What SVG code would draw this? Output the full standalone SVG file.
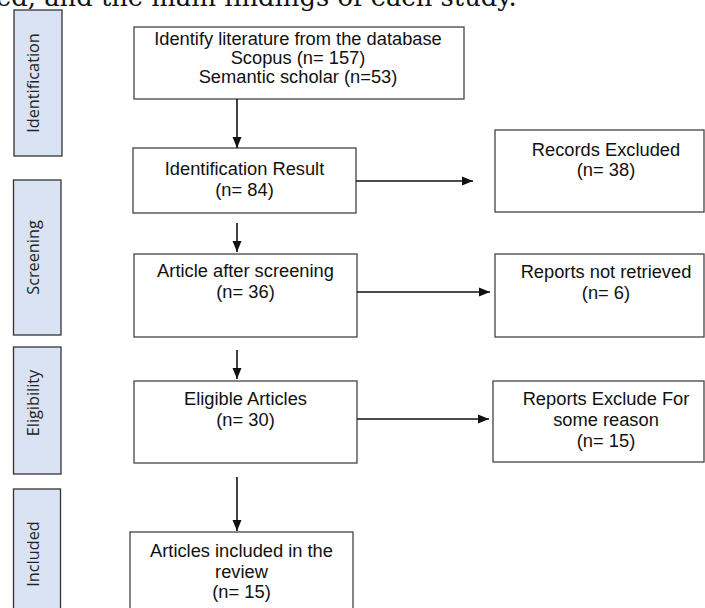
<svg xmlns="http://www.w3.org/2000/svg" width="705" height="608" viewBox="0 0 705 608">
<style>
.stage{fill:#dae3f3;stroke:#333;stroke-width:1.3}
.stxt{font-family:"Open Sans",sans-serif;font-size:16.3px;fill:#222;text-anchor:middle}
.box{fill:#fff;stroke:#444;stroke-width:1.3}
.t{font-family:"Liberation Sans",Arial,sans-serif;font-size:18.3px;fill:#111;text-anchor:middle}
.cap{font-family:"DejaVu Serif",serif;font-size:25.8px;fill:#111}
.conn line{stroke:#111;stroke-width:1.6;fill:none}
</style>
<defs>
<marker id="ah" markerUnits="userSpaceOnUse" markerWidth="12" markerHeight="12" viewBox="0 0 12 12" refX="11" refY="6" orient="auto">
<path d="M0,1.5 L11,6 L0,10.5 Z" fill="#111"/>
</marker>
</defs>
<rect width="705" height="608" fill="#fff"/>
<text class="cap" x="-4" y="6">ed, and the main findings of each study.</text>

<g id="stage-identification"><rect class="stage" x="14" y="10" width="48" height="146"/><text class="stxt" transform="translate(39,83) rotate(-90)">Identification</text></g>
<g id="stage-screening"><rect class="stage" x="13.5" y="180" width="47.5" height="155"/><text class="stxt" transform="translate(39,257.5) rotate(-90)">Screening</text></g>
<g id="stage-eligibility"><rect class="stage" x="13.5" y="347" width="47.5" height="127"/><text class="stxt" transform="translate(39,403) rotate(-90)">Eligibility</text></g>
<g id="stage-included"><rect class="stage" x="13.5" y="489" width="47" height="130"/><text class="stxt" transform="translate(39,554) rotate(-90)">Included</text></g>

<g id="identify"><rect class="box" x="134" y="27" width="330" height="72"/>
<text class="t" x="298" y="45">Identify literature from the database</text>
<text class="t" x="298" y="64">Scopus (n= 157)</text>
<text class="t" x="298" y="83">Semantic scholar (n=53)</text></g>

<g id="identification-result"><rect class="box" x="133" y="148" width="223" height="65"/>
<text class="t" x="244.5" y="175">Identification Result</text>
<text class="t" x="244.5" y="196">(n= 84)</text></g>

<g id="records-excluded"><rect class="box" x="495" y="130" width="209" height="82"/>
<text class="t" x="606" y="156">Records Excluded</text>
<text class="t" x="606" y="176">(n= 38)</text></g>

<g id="after-screening"><rect class="box" x="134" y="254" width="223" height="83"/>
<text class="t" x="245.5" y="277">Article after screening</text>
<text class="t" x="245.5" y="298">(n= 36)</text></g>

<g id="not-retrieved"><rect class="box" x="495" y="254" width="209" height="83"/>
<text class="t" x="606" y="278">Reports not retrieved</text>
<text class="t" x="606" y="299">(n= 6)</text></g>

<g id="eligible"><rect class="box" x="134" y="381" width="223" height="82"/>
<text class="t" x="245.5" y="405">Eligible Articles</text>
<text class="t" x="245.5" y="426">(n= 30)</text></g>

<g id="reports-exclude"><rect class="box" x="493" y="381" width="211" height="81"/>
<text class="t" x="606" y="405">Reports Exclude For</text>
<text class="t" x="606" y="426">some reason</text>
<text class="t" x="606" y="447">(n= 15)</text></g>

<g id="included"><rect class="box" x="130" y="532" width="223" height="90"/>
<text class="t" x="241.5" y="557">Articles included in the</text>
<text class="t" x="241.5" y="578">review</text>
<text class="t" x="241.5" y="598">(n= 15)</text></g>

<g class="conn" id="connectors">
<line x1="237" y1="99" x2="237" y2="148" marker-end="url(#ah)"/>
<line x1="237" y1="223" x2="237" y2="252" marker-end="url(#ah)"/>
<line x1="237" y1="350" x2="237" y2="379" marker-end="url(#ah)"/>
<line x1="237" y1="477" x2="237" y2="531" marker-end="url(#ah)"/>
<line x1="356" y1="181" x2="473" y2="181" marker-end="url(#ah)"/>
<line x1="357" y1="292" x2="490" y2="292" marker-end="url(#ah)"/>
<line x1="357" y1="419" x2="489" y2="419" marker-end="url(#ah)"/>
</g>
</svg>
